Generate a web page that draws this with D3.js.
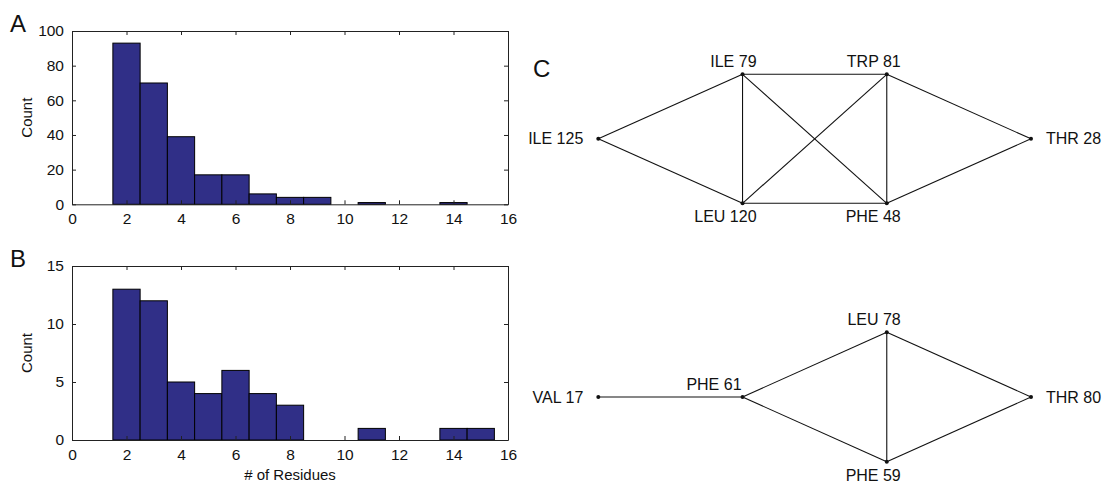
<!DOCTYPE html>
<html>
<head>
<meta charset="utf-8">
<script src="https://cdn.jsdelivr.net/npm/d3@7"></script>
<style>
  html, body { margin: 0; padding: 0; background: #fff; }
  svg text { font-family: "Liberation Sans", Arial, Helvetica, sans-serif; fill: #111; }
</style>
</head>
<body>
<div id="chart"></div>
<script>
// Histogram data (bin centres = number of residues)
var binCenters = [1, 2, 3, 4, 5, 6, 7, 8, 9, 10, 11, 12, 13, 14, 15];
var countsA = [0, 93, 70, 39, 17, 17, 6, 4, 4, 0, 1, 0, 0, 1, 0];
var countsB = [0, 13, 12, 5, 4, 6, 4, 3, 0, 0, 1, 0, 0, 1, 1];
var xTicks = [0, 2, 4, 6, 8, 10, 12, 14, 16];
var yTicksA = [0, 20, 40, 60, 80, 100];
var yTicksB = [0, 5, 10, 15];

// Residue networks (col / row = layout grid)
var nodesTop = [
  { id: "ILE 125", col: 0, row: 0 },
  { id: "ILE 79", col: 1, row: -1 },
  { id: "LEU 120", col: 1, row: 1 },
  { id: "TRP 81", col: 2, row: -1 },
  { id: "PHE 48", col: 2, row: 1 },
  { id: "THR 28", col: 3, row: 0 }
];
var edgesTop = [
  ["ILE 125", "ILE 79"], ["ILE 125", "LEU 120"], ["ILE 79", "LEU 120"],
  ["ILE 79", "TRP 81"], ["ILE 79", "PHE 48"], ["LEU 120", "TRP 81"],
  ["LEU 120", "PHE 48"], ["TRP 81", "PHE 48"], ["TRP 81", "THR 28"],
  ["PHE 48", "THR 28"]
];
var nodesBottom = [
  { id: "VAL 17", col: 0, row: 0 },
  { id: "PHE 61", col: 1, row: 0 },
  { id: "LEU 78", col: 2, row: -1 },
  { id: "PHE 59", col: 2, row: 1 },
  { id: "THR 80", col: 3, row: 0 }
];
var edgesBottom = [
  ["VAL 17", "PHE 61"], ["PHE 61", "LEU 78"], ["PHE 61", "PHE 59"],
  ["LEU 78", "PHE 59"], ["LEU 78", "THR 80"], ["PHE 59", "THR 80"]
];

var W = 1102, H = 484;
var svg = d3.select("#chart").append("svg")
  .attr("width", W).attr("height", H);

var barFill = "#302f87";
var axisColour = "#222";

function histogram(top, bottom, counts, yTicks, yMax, letter, showXLabel) {
  var x = d3.scaleLinear().domain([0, 16]).range([72, 508]);
  var y = d3.scaleLinear().domain([0, yMax]).range([bottom, top]);
  var g = svg.append("g");

  // bars
  g.selectAll(".bar")
    .data(binCenters.map(function (c, i) { return { c: c, v: counts[i] }; })
      .filter(function (d) { return d.v > 0; }))
    .join("rect")
      .attr("class", "bar")
      .attr("x", function (d) { return x(d.c - 0.5); })
      .attr("width", function (d) { return x(d.c + 0.5) - x(d.c - 0.5); })
      .attr("y", function (d) { return y(d.v); })
      .attr("height", function (d) { return y(0) - y(d.v); })
      .attr("fill", barFill)
      .attr("stroke", "#000")
      .attr("stroke-width", 1);

  function style(gg) {
    gg.select(".domain").attr("stroke", axisColour);
    gg.selectAll(".tick line").attr("stroke", axisColour);
    gg.selectAll(".tick text").attr("font-size", 15.5).attr("fill", "#111")
      .attr("font-family", "'Liberation Sans', Arial, sans-serif");
  }

  g.append("g").attr("transform", "translate(0," + bottom + ")")
    .call(d3.axisBottom(x).tickValues(xTicks).tickSizeInner(-4).tickSizeOuter(0).tickPadding(8.5))
    .call(style);
  g.append("g").attr("transform", "translate(0," + top + ")")
    .call(d3.axisTop(x).tickValues(xTicks).tickSizeInner(-4).tickSizeOuter(0).tickFormat(""))
    .call(style);
  g.append("g").attr("transform", "translate(72,0)")
    .call(d3.axisLeft(y).tickValues(yTicks).tickSizeInner(-4).tickSizeOuter(0).tickPadding(8))
    .call(style);
  g.append("g").attr("transform", "translate(508,0)")
    .call(d3.axisRight(y).tickValues(yTicks).tickSizeInner(-4).tickSizeOuter(0).tickFormat(""))
    .call(style);

  g.selectAll(".domain").attr("fill", "none");

  g.append("text")
    .attr("transform", "translate(32," + (top + bottom) / 2 + ") rotate(-90)")
    .attr("text-anchor", "middle").attr("font-size", 15)
    .text("Count");

  g.append("text")
    .attr("x", 10).attr("y", top + 0.5)
    .attr("font-size", 24)
    .text(letter);

  if (showXLabel) {
    g.append("text")
      .attr("x", (x(0) + x(16)) / 2).attr("y", 480)
      .attr("text-anchor", "middle").attr("font-size", 15)
      .text("# of Residues");
  }
}

histogram(31, 204.3, countsA, yTicksA, 100, "A", false);
histogram(266, 440, countsB, yTicksB, 15, "B", true);

// Panel C
var xNet = d3.scaleLinear().domain([0, 3]).range([598.3, 1031]);

function network(nodes, edges, yRange) {
  var yNet = d3.scaleLinear().domain([-1, 1]).range(yRange);
  var byId = {};
  nodes.forEach(function (n) { byId[n.id] = n; });
  var g = svg.append("g");

  g.selectAll(".edge")
    .data(edges).join("line")
      .attr("class", "edge")
      .attr("x1", function (d) { return xNet(byId[d[0]].col); })
      .attr("y1", function (d) { return yNet(byId[d[0]].row); })
      .attr("x2", function (d) { return xNet(byId[d[1]].col); })
      .attr("y2", function (d) { return yNet(byId[d[1]].row); })
      .attr("stroke", "#111").attr("stroke-width", 1.1);

  g.selectAll(".node")
    .data(nodes).join("circle")
      .attr("class", "node")
      .attr("cx", function (d) { return xNet(d.col); })
      .attr("cy", function (d) { return yNet(d.row); })
      .attr("r", 2)
      .attr("fill", "#111");

  g.selectAll(".nlabel")
    .data(nodes).join("text")
      .attr("class", "nlabel")
      .attr("font-size", 16)
      .attr("text-anchor", function (d) { return d.col === 3 ? "start" : "end"; })
      .attr("x", function (d) {
        var px = xNet(d.col);
        if (d.col === 0) return px - 15;
        if (d.col === 3) return px + 15;
        if (d.row === 0) return px - 1;
        return px + 14;
      })
      .attr("y", function (d) {
        var py = yNet(d.row);
        if (d.col === 0 || d.col === 3) return py + 5.5;
        if (d.row === 1) return py + 19;
        return py - 7;
      })
      .text(function (d) { return d.id; });
}

network(nodesTop, edgesTop, [74.3, 203.3]);
network(nodesBottom, edgesBottom, [332.3, 461.7]);

svg.append("text")
  .attr("x", 533).attr("y", 77)
  .attr("font-size", 24)
  .text("C");
</script>
</body>
</html>
